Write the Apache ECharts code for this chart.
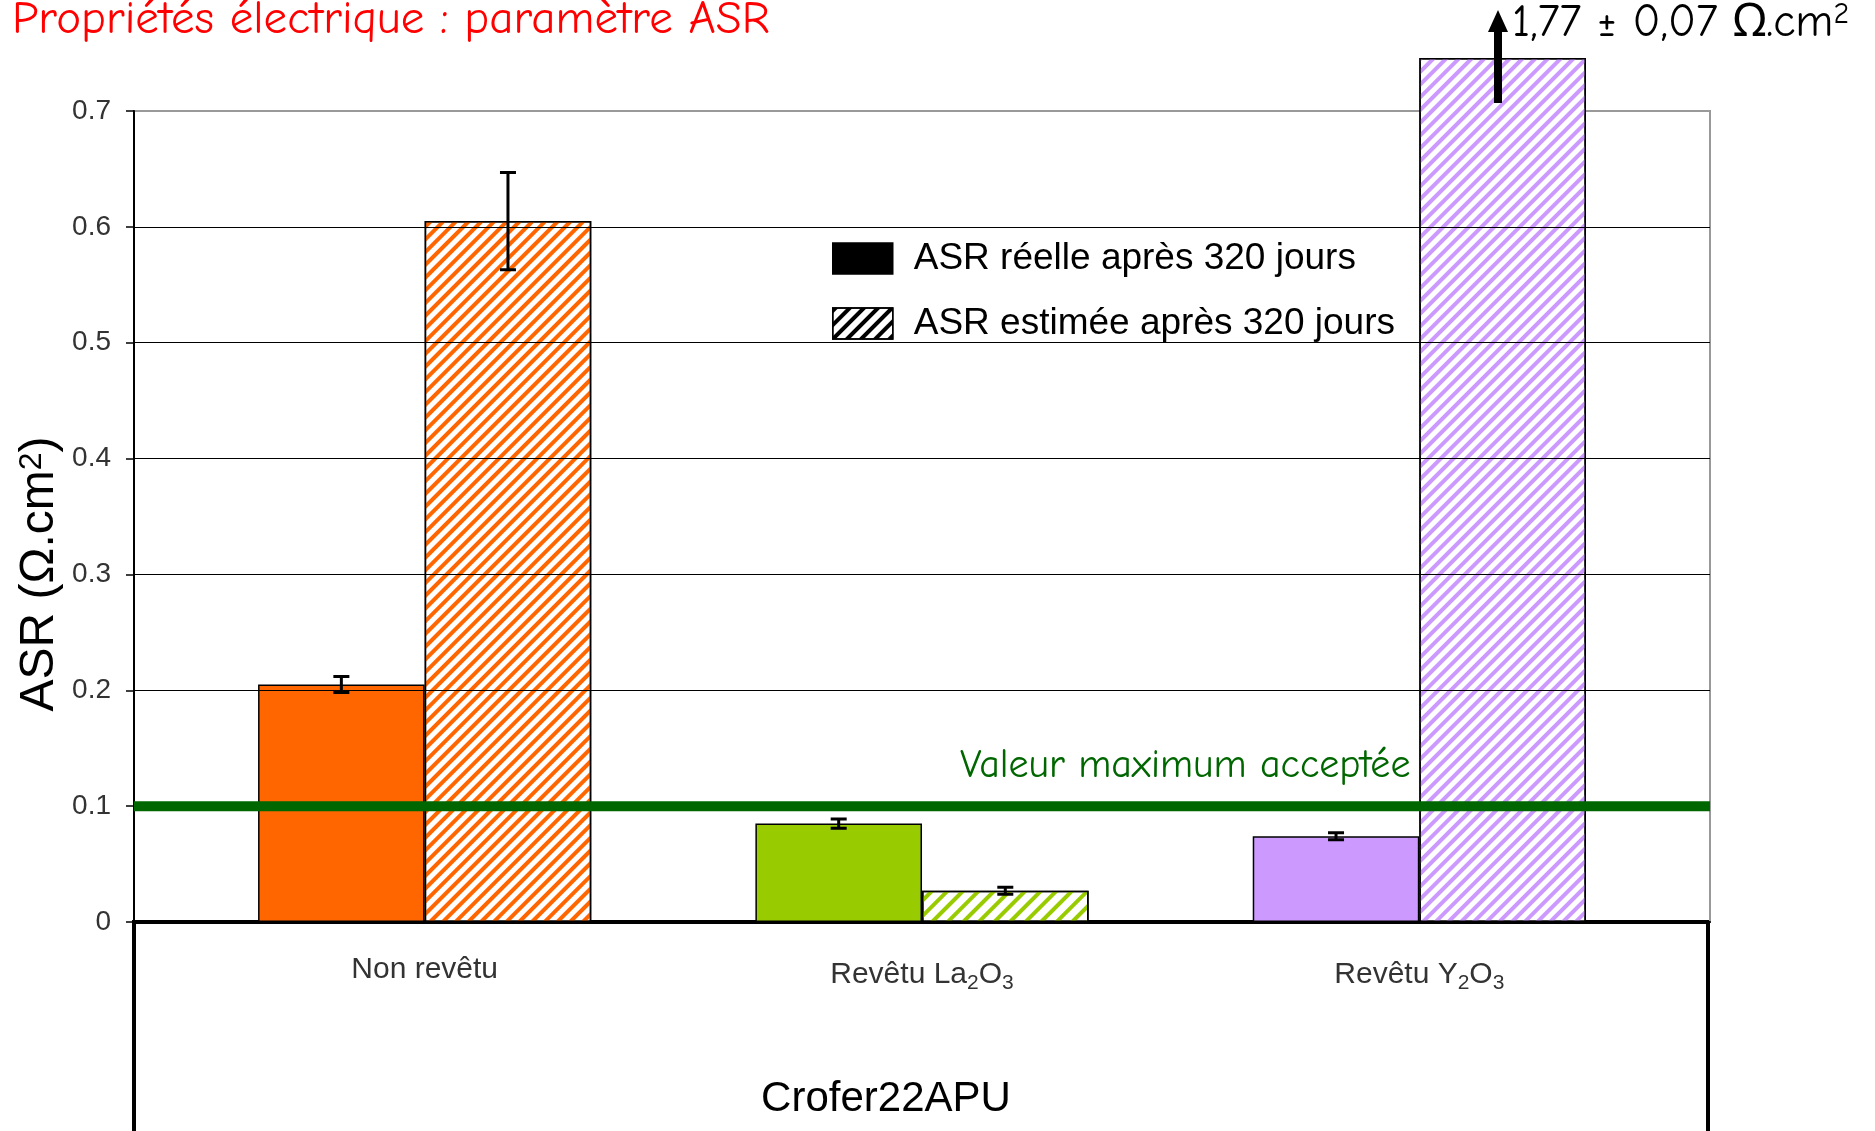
<!DOCTYPE html>
<html>
<head>
<meta charset="utf-8">
<script src="https://cdn.jsdelivr.net/npm/echarts@6/dist/echarts.min.js"></script>
<style>
  html, body { margin: 0; padding: 0; background: #fff; }
  #chart { width: 1875px; height: 1131px; }
</style>
</head>
<body>
<div id="chart"></div>
<script>
// ---- data ----
const categories = ['Non revêtu', 'Revêtu La{sub|2}O{sub|3}', 'Revêtu Y{sub|2}O{sub|3}'];
const seriesNames = ['ASR réelle après 320 jours', 'ASR estimée après 320 jours'];
const asrReelle = [0.205, 0.085, 0.074];
const asrReelleErr = [0.007, 0.004, 0.003];
const asrEstimee = [0.605, 0.027, 1.77];
const asrEstimeeErr = [0.042, 0.003, 0.07];
const categoryColors = ['#FF6600', '#99CC00', '#CC99FF'];
const yTickMin = 0;
const yTickMax = 0.7;
const yTickStep = 0.1;
const seuilMax = 0.1;
const seuilLabel = 'Valeur maximum acceptée';
const titleText = 'Propriétés électrique : paramètre ASR';
const overflowText = '1,77 ± 0,07 Ω.cm{sup|2}';
const axisTitleY = 'ASR (Ω.cm{sup|2})';
const axisTitleX = 'Crofer22APU';

// ---- layout ----
const frame = { left: 134, right: 1710, top: 111, bottom: 922 };
const overflowMax = 0.745;                      // bars may rise a little above the frame
const pxPerUnit = (frame.bottom - frame.top) / yTickMax;
const barTop = frame.bottom - pxPerUnit * overflowMax;
const barInset = 42;
const catGap = 0.33;

const sansFont = '"Liberation Sans", Arial, sans-serif';
const handFont = '"Comic Sans MS", "Comic Neue", "Noto Sans", sans-serif';

const hatch = (color, w, gap) => ({
  symbol: 'rect', symbolSize: 1, color: color,
  dashArrayX: [1, 0], dashArrayY: [w, gap], rotation: -Math.PI / 4
});
const hatchSizes = [[4, 5], [4, 7], [4, 5]];

const chart = echarts.init(document.getElementById('chart'), null, { renderer: 'canvas' });

// error bars for the two bar series, offset to the centre of each bar
const errData = [];
asrReelle.forEach((v, i) => errData.push([i, v, asrReelleErr[i], -1]));
asrEstimee.forEach((v, i) => errData.push([i, v, asrEstimeeErr[i], 1]));

function renderErr(params, api) {
  const i = api.value(0), v = api.value(1), e = api.value(2), side = api.value(3);
  const band = api.size([1, 0])[0];
  const bw = band * (1 - catGap) / 2;
  const c = api.coord([i, v]);
  const x = c[0] + side * bw / 2;
  const yHi = api.coord([i, v + e])[1];
  const yLo = api.coord([i, v - e])[1];
  const cap = 8;
  const st = { stroke: '#000', lineWidth: 3 };
  return {
    type: 'group',
    children: [
      { type: 'line', shape: { x1: x, y1: yHi, x2: x, y2: yLo }, style: st },
      { type: 'line', shape: { x1: x - cap, y1: yHi, x2: x + cap, y2: yHi }, style: st },
      { type: 'line', shape: { x1: x - cap, y1: yLo, x2: x + cap, y2: yLo }, style: st }
    ]
  };
}

const option = {
  backgroundColor: '#fff',
  animation: false,
  grid: [
    { left: frame.left, top: frame.top, width: frame.right - frame.left, height: frame.bottom - frame.top,
      show: true, borderColor: '#999', borderWidth: 2, backgroundColor: 'transparent' },
    { left: frame.left + barInset, width: frame.right - frame.left - 2 * barInset,
      top: barTop, height: frame.bottom - barTop }
  ],
  legend: {
    orient: 'vertical', left: 827, top: 235,
    itemWidth: 60, itemHeight: 31, itemGap: 28,
    icon: 'rect', selectedMode: false,
    itemStyle: { borderColor: '#000', borderWidth: 1.5 },
    textStyle: { fontSize: 37, color: '#000', fontFamily: sansFont, padding: [0, 0, 0, 16] },
    data: seriesNames
  },
  xAxis: [
    { gridIndex: 0, type: 'value', min: 0, max: 1,
      axisLine: { show: true, onZero: false, lineStyle: { color: '#000', width: 2 } },
      axisTick: { show: false }, axisLabel: { show: false }, splitLine: { show: false } },
    { gridIndex: 1, type: 'category', data: categories,
      axisLine: { show: false }, axisTick: { show: false },
      axisLabel: {
        margin: 33, fontSize: 30, color: '#333', fontFamily: sansFont,
        rich: { sub: { fontSize: 21, color: '#333', fontFamily: sansFont, padding: [18, 0, 0, 0] } }
      },
      name: axisTitleX, nameLocation: 'middle', nameGap: 156,
      nameTextStyle: { fontSize: 42, color: '#000', fontFamily: sansFont, padding: [0, 72, 0, 0] } }
  ],
  yAxis: [
    { gridIndex: 0, type: 'value', min: yTickMin, max: yTickMax, interval: yTickStep, z: 3,
      axisLine: { show: true, lineStyle: { color: '#000', width: 2 } },
      axisTick: { show: true, length: 8, lineStyle: { color: '#000', width: 1.5 } },
      axisLabel: { margin: 23, fontSize: 28, color: '#333', fontFamily: sansFont,
        formatter: v => String(Math.round(v * 10) / 10) },
      splitLine: { show: true, showMaxLine: false, lineStyle: { color: '#000', width: 1 } } },
    { gridIndex: 1, type: 'value', min: 0, max: overflowMax, show: false }
  ],
  series: [
    {
      name: seriesNames[0], type: 'bar', xAxisIndex: 1, yAxisIndex: 1,
      barGap: '0%', barCategoryGap: (catGap * 100) + '%',
      itemStyle: { color: '#000', borderColor: '#000', borderWidth: 1.5 },
      data: asrReelle.map((v, i) => ({ value: v, itemStyle: { color: categoryColors[i] } }))
    },
    {
      name: seriesNames[1], type: 'bar', xAxisIndex: 1, yAxisIndex: 1,
      barGap: '0%', barCategoryGap: (catGap * 100) + '%',
      itemStyle: { color: '#fff', borderColor: '#000', borderWidth: 1.5, decal: hatch('#000', 4, 6) },
      data: asrEstimee.map((v, i) => ({
        value: v,
        itemStyle: { color: '#fff', decal: hatch(categoryColors[i], hatchSizes[i][0], hatchSizes[i][1]) }
      }))
    },
    {
      type: 'custom', xAxisIndex: 1, yAxisIndex: 1, clip: true, z: 5, silent: true,
      renderItem: renderErr, data: errData
    },
    {
      type: 'line', xAxisIndex: 0, yAxisIndex: 0, z: 6, silent: true,
      symbol: 'none', lineStyle: { color: '#006600', width: 10 },
      data: [[0, seuilMax], [1, seuilMax]]
    }
  ],
  graphic: [
    { type: 'text', left: 12, top: -4, style: { text: titleText, fill: '#FF0000', font: '47px ' + handFont } },
    { type: 'text', left: 1512, top: 0, style: {
        text: overflowText, fill: '#000', font: '46px ' + handFont,
        rich: { sup: { fontSize: 30, fontFamily: handFont, fill: '#000', padding: [0, 0, 16, 0] } } } },
    { type: 'text', left: 960, top: 746, style: { text: seuilLabel, fill: '#006600', font: '40px ' + handFont }, z: 10 },
    { type: 'line', shape: { x1: 1498, y1: 103, x2: 1498, y2: 28 }, style: { stroke: '#000', lineWidth: 8 }, z: 10 },
    { type: 'polygon', shape: { points: [[1488, 32], [1508, 32], [1498, 10]] }, style: { fill: '#000' }, z: 10 },
    { type: 'text', x: 40, y: 574, rotation: Math.PI / 2, style: {
        text: axisTitleY, fill: '#000', font: '48px ' + sansFont, align: 'center', verticalAlign: 'middle',
        rich: { sup: { fontSize: 32, fontFamily: sansFont, fill: '#000', padding: [0, 0, 16, 0] } } } },
    { type: 'rect', shape: { x: frame.left, y: frame.bottom, width: frame.right - 2 - frame.left, height: 260 },
      style: { fill: 'none', stroke: '#000', lineWidth: 4 }, z: -1 }
  ]
};
chart.setOption(option);
</script>
</body>
</html>
